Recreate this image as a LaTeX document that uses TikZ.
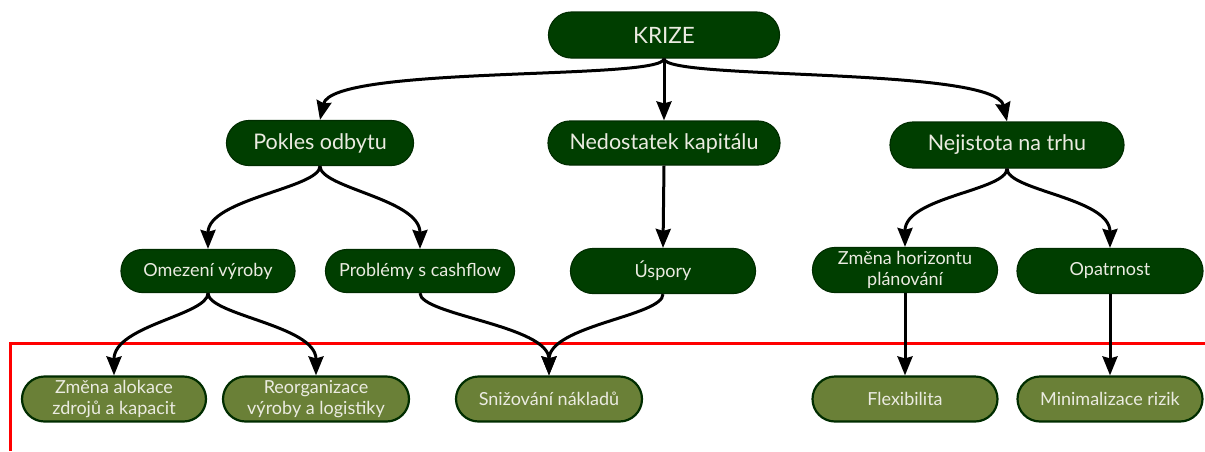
\documentclass[tikz,border=0pt]{standalone}
\usepackage{fontspec}
\setmainfont{Lato}
\usetikzlibrary{arrows.meta,shapes.misc}
\definecolor{darkg}{RGB}{0,62,0}
\definecolor{olive}{RGB}{106,128,55}
\definecolor{edgeg}{RGB}{0,45,0}
\definecolor{txt}{RGB}{235,235,225}
\tikzset{
  box/.style={draw=edgeg, line width=1.2pt, fill=darkg, text=txt, rounded rectangle,
    rounded rectangle arc length=180,
    minimum height=45pt, minimum width=188pt, align=center, inner sep=1pt,
    font=\fontsize{18}{20.5}\selectfont},
  topbox/.style={box, font=\fontsize{21.5}{24}\selectfont},
  leaf/.style={box, fill=olive, line width=2.2pt},
  arr/.style={line width=3pt, -{Stealth[length=19pt,width=15pt,inset=2pt]}},
}
\begin{document}
\begin{tikzpicture}[x=1pt,y=-1pt]
\useasboundingbox (0,0) rectangle (1205,451);
% nodes
\node[topbox, minimum width=233pt, minimum height=46pt, font=\fontsize{22.5}{26}\selectfont] (krize) at (664,35) {KRIZE};
\node[topbox, minimum width=189pt] (pokles) at (320,143) {Pokles odbytu};
\node[topbox, minimum width=234pt, minimum height=44pt] (nedost) at (664,143) {Nedostatek kapitálu};
\node[topbox, minimum width=236pt, minimum height=46pt] (nejist) at (1007,145) {Nejistota na trhu};
\node[box, minimum width=176pt, minimum height=43pt] (omez) at (208,271) {Omezení výroby};
\node[box, minimum width=191pt, minimum height=43pt] (probl) at (420,271) {Problémy s cashflow};
\node[box, minimum width=187pt] (uspory) at (663,271) {Úspory};
\node[box, minimum width=187pt] (horiz) at (905,270) {Změna horizontu\\plánování};
\node[box, minimum width=188pt] (opatr) at (1110,271) {Opatrnost};
\node[leaf, minimum width=186pt] (aloka) at (114,399) {Změna alokace\\zdrojů a kapacit};
\node[leaf, minimum width=188pt] (reorg) at (316,399) {Reorganizace\\výroby a logistiky};
\node[leaf, minimum width=188pt] (sniz) at (549,399) {Snižování nákladů};
\node[leaf, minimum width=187pt] (flex) at (905,399) {Flexibilita};
\node[leaf, minimum width=187pt] (minim) at (1110,399) {Minimalizace rizik};
% red frame line
\draw[red, line width=3pt] (10,451) -- (10,343) -- (1205,343);
% connectors
\draw[arr] (krize.south) .. controls +(0,22) and +(12,-55) .. (pokles.north);
\draw[arr] (krize.south) -- (nedost.north);
\draw[arr] (krize.south) .. controls +(0,22) and +(-12,-55) .. (nejist.north);
\draw[arr] (pokles.south) .. controls +(0,22) and +(0,-50) .. (omez.north);
\draw[arr] (pokles.south) .. controls +(0,22) and +(0,-50) .. (probl.north);
\draw[arr] (nedost.south) -- (uspory.north);
\draw[arr] (nejist.south) .. controls +(0,22) and +(0,-50) .. (horiz.north);
\draw[arr] (nejist.south) .. controls +(0,22) and +(0,-50) .. (opatr.north);
\draw[arr] (omez.south) .. controls +(0,22) and +(0,-50) .. (aloka.north);
\draw[arr] (omez.south) .. controls +(0,22) and +(0,-50) .. (reorg.north);
\draw[arr] (probl.south) .. controls +(0,22) and +(0,-50) .. (sniz.north);
\draw[arr] (uspory.south) .. controls +(0,22) and +(0,-50) .. (sniz.north);
\draw[arr] (horiz.south) -- (flex.north);
\draw[arr] (opatr.south) -- (minim.north);
\end{tikzpicture}
\end{document}
